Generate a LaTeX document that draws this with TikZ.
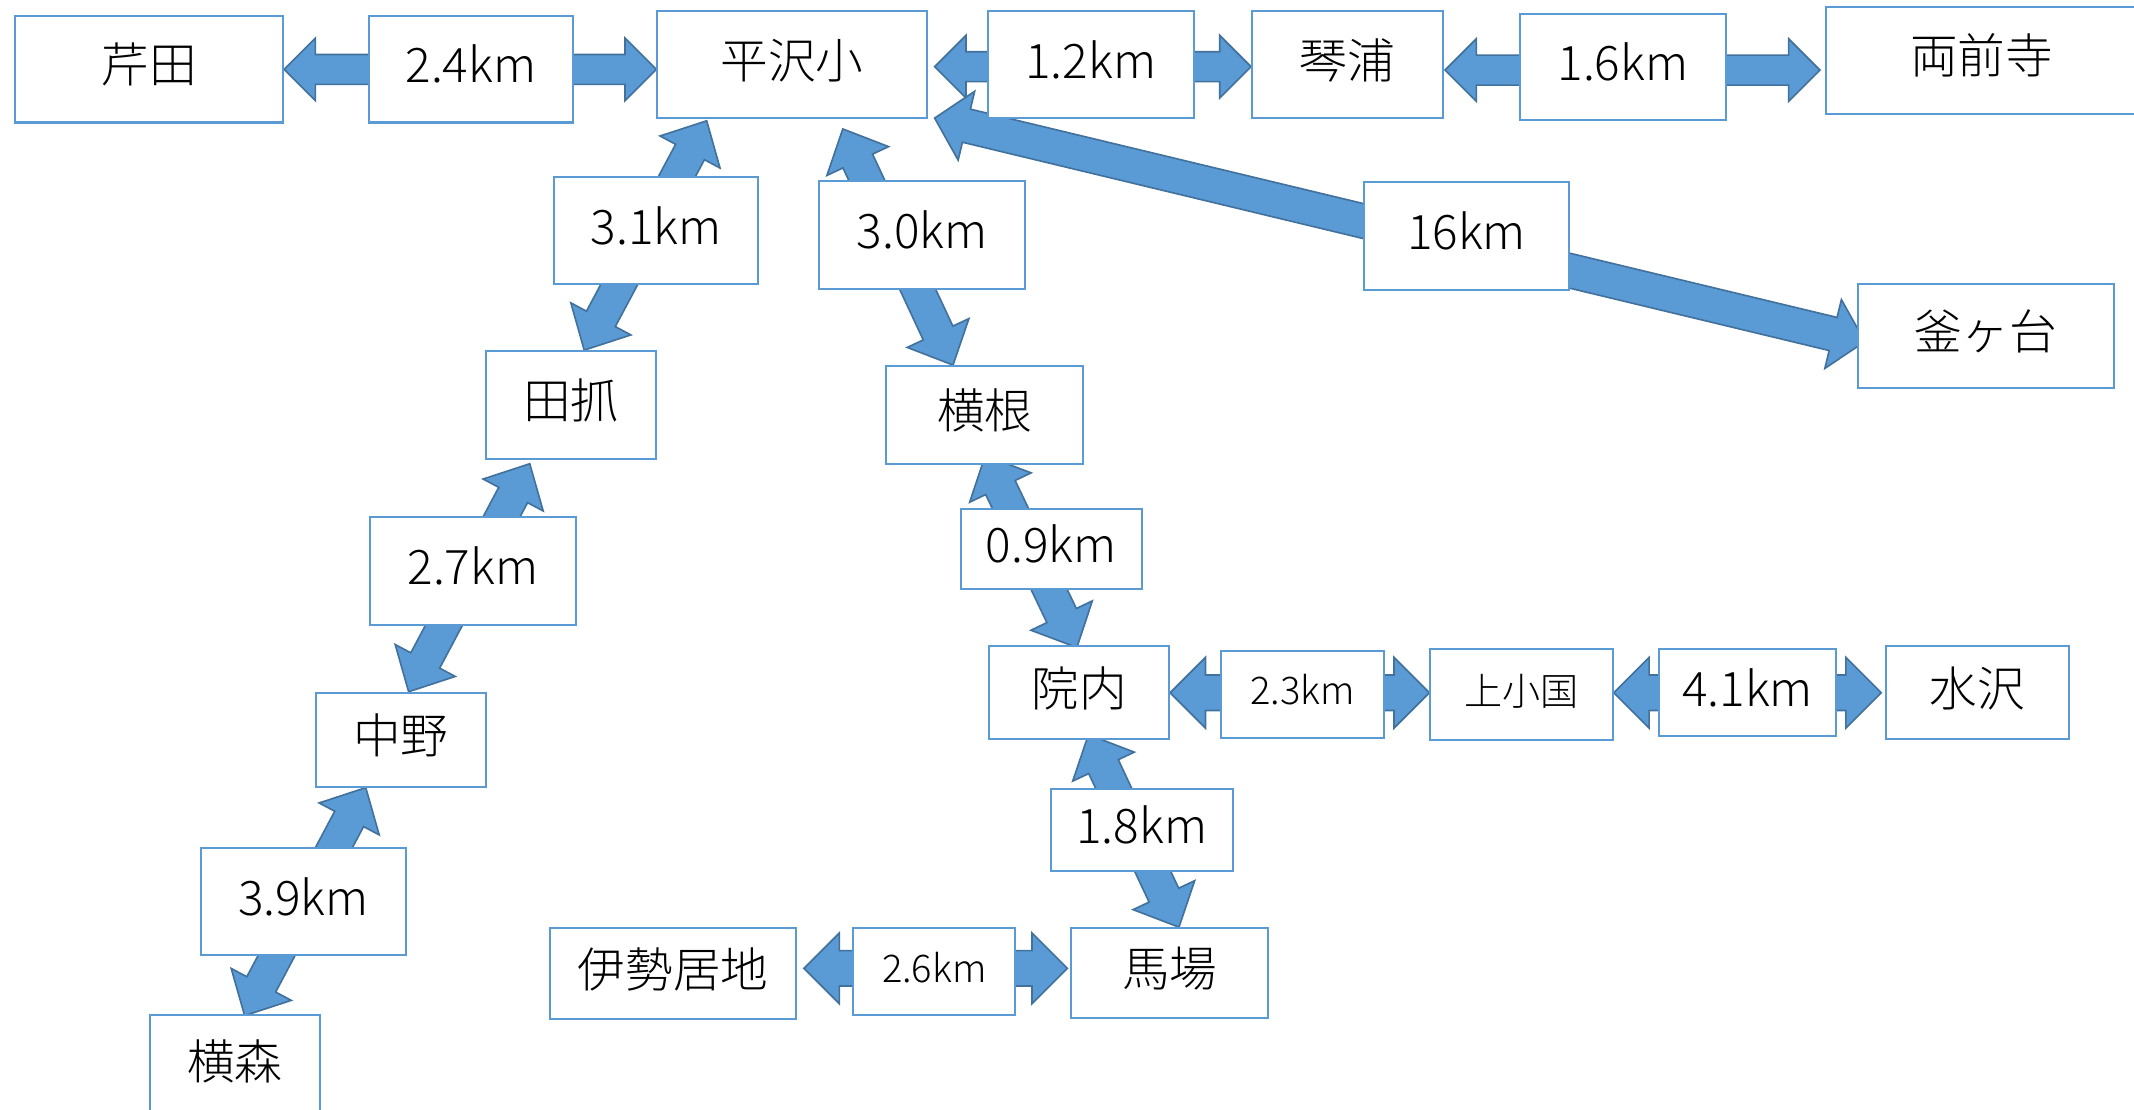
\documentclass[tikz,border=0pt]{standalone}
\usepackage{fontspec}
\setmainfont{Noto Sans CJK JP Light}
\usetikzlibrary{calc}
\definecolor{boxline}{HTML}{5B9BD5}
\definecolor{arrfill}{HTML}{5B9BD5}
\definecolor{arrline}{HTML}{41719C}
\pgfdeclarelayer{bg}
\pgfsetlayers{bg,main}
\tikzset{
  stbox/.style={draw=boxline, line width=1.5pt, fill=white, inner sep=0pt,
    font=\fontsize{35}{40}\selectfont, text height=24.5pt, text depth=4.8pt},
  smallbox/.style={stbox, font=\fontsize{28}{34}\selectfont, text height=20pt, text depth=4pt},
  blockarrow/.style={fill=arrfill, draw=arrline, line width=1.2pt, line join=miter},
}
% #1 head half width, #2 shaft half width, #3 head length, #4 tip A, #5 tip B
\newcommand\dblarr[5]{%
  \coordinate (ta) at (#4);
  \coordinate (tb) at (#5);
  \coordinate (ha) at ($(ta)!#3pt!(tb)$);
  \coordinate (hb) at ($(tb)!#3pt!(ta)$);
  \path[blockarrow] (ta) -- ($(ha)!#1pt!90:(tb)$) -- ($(ha)!#2pt!90:(tb)$)
    -- ($(hb)!#2pt!-90:(ta)$) -- ($(hb)!#1pt!-90:(ta)$) -- (tb)
    -- ($(hb)!#1pt!90:(ta)$) -- ($(hb)!#2pt!90:(ta)$)
    -- ($(ha)!#2pt!-90:(tb)$) -- ($(ha)!#1pt!-90:(tb)$) -- cycle;
}
\begin{document}
\begin{tikzpicture}[x=1pt,y=-1pt]
\useasboundingbox (0,0) rectangle (1568,815);
% stations
\node[stbox, minimum width=197pt, minimum height=78pt] (serita) at (109.5,51) {芹田};
\node[stbox, minimum width=198pt, minimum height=79pt] (hirasawa) at (582,47.5) {平沢小};
\node[stbox, minimum width=140pt, minimum height=79pt] (kotoura) at (990,47.5) {琴浦};
\node[stbox, minimum width=228pt, minimum height=79pt] (ryozenji) at (1456,44.5) {両前寺};
\node[stbox, minimum width=188pt, minimum height=76pt] (kamagadai) at (1459,247) {釜ヶ台};
\node[stbox, minimum width=125pt, minimum height=79pt] (tazume) at (419.5,297.5) {田抓};
\node[stbox, minimum width=145pt, minimum height=72pt] (yokone) at (723.5,305) {横根};
\node[stbox, minimum width=125pt, minimum height=69pt] (nakano) at (294.5,543.5) {中野};
\node[stbox, minimum width=132pt, minimum height=68pt] (innai) at (793,509) {院内};
\node[smallbox, minimum width=134pt, minimum height=67pt] (kamikokuni) at (1118,510.5) {上小国};
\node[stbox, minimum width=134pt, minimum height=68pt] (mizusawa) at (1453,509) {水沢};
\node[stbox, minimum width=181pt, minimum height=67pt] (iseiji) at (494.5,715.5) {伊勢居地};
\node[stbox, minimum width=145pt, minimum height=66pt] (baba) at (859.5,715) {馬場};
\node[stbox, minimum width=125pt, minimum height=74pt] (yokomori) at (172.5,783) {横森};
% arrow end points
\coordinate (h2a) at ($(hirasawa.east)+(5,1.5)$);
\coordinate (h3a) at ($(kotoura.east)+(1,4)$);
\coordinate (h6a) at ($(iseiji.east)+(5,-4)$);
\coordinate (a1a) at ($(hirasawa.south west)+(37,1)$);
\coordinate (a1b) at ($(tazume.north west)+(73,0)$);
\coordinate (a2a) at ($(hirasawa.south west)+(137,7)$);
\coordinate (a2b) at ($(yokone.north west)+(50,0)$);
\coordinate (a3a) at ($(hirasawa.south east)+(5,-1)$);
\coordinate (a3b) at ($(kamagadai.west)+(6,4)$);
\coordinate (a4a) at ($(tazume.south west)+(33,3)$);
\coordinate (a4b) at ($(nakano.north west)+(69,0)$);
\coordinate (a5a) at ($(nakano.south west)+(37.5,0)$);
\coordinate (a5b) at ($(yokomori.north west)+(70.5,1)$);
\coordinate (a6a) at ($(yokone.south west)+(73.6,-7)$);
\coordinate (a6b) at ($(innai.north west)+(65,1.5)$);
\coordinate (a7a) at ($(innai.south west)+(73.5,-4)$);
\coordinate (a7b) at ($(baba.north west)+(80,0)$);
\begin{pgfonlayer}{bg}
  \dblarr{23}{11}{23}{serita.east}{hirasawa.west |- serita.east}
  \dblarr{23}{11}{23}{h2a}{kotoura.west |- h2a}
  \dblarr{23}{11}{23}{h3a}{$(ryozenji.west |- h3a)+(-4,0)$}
  \dblarr{25}{12}{26}{a1a}{a1b}
  \dblarr{25}{12}{26}{a2a}{a2b}
  \dblarr{26}{12.5}{24}{a3a}{a3b}
  \dblarr{25}{12}{26}{a4a}{a4b}
  \dblarr{25}{12}{26}{a5a}{a5b}
  \dblarr{25}{12}{26}{a6a}{a6b}
  \dblarr{25}{12}{26}{a7a}{a7b}
  \dblarr{26}{13}{26}{innai.east}{kamikokuni.west |- innai.east}
  \dblarr{26}{13}{26}{kamikokuni.east |- innai.east}{$(mizusawa.west |- innai.east)+(-3,0)$}
  \dblarr{26}{13}{26}{h6a}{$(baba.west |- h6a)+(-2,0)$}
\end{pgfonlayer}
% distance labels
\node[stbox, minimum width=150pt, minimum height=78pt] (d24) at (346,51) {2.4km};
\node[stbox, minimum width=151pt, minimum height=79pt] (d12) at (801.5,47.5) {1.2km};
\node[stbox, minimum width=151pt, minimum height=78pt] (d16a) at (1192.5,49) {1.6km};
\node[stbox, minimum width=150pt, minimum height=79pt] (d31) at (482,169.5) {3.1km};
\node[stbox, minimum width=151pt, minimum height=79pt] (d30) at (677.5,172.5) {3.0km};
\node[stbox, minimum width=151pt, minimum height=79pt] (d160) at (1077.5,173.5) {16km};
\node[stbox, minimum width=151pt, minimum height=79pt] (d27) at (347.5,419.5) {2.7km};
\node[stbox, minimum width=133pt, minimum height=59pt] (d09) at (772.5,403.5) {0.9km};
\node[smallbox, minimum width=120pt, minimum height=64pt] (d23) at (957,510) {2.3km};
\node[stbox, minimum width=130pt, minimum height=64pt] (d41) at (1284,509) {4.1km};
\node[stbox, minimum width=134pt, minimum height=60pt] (d18) at (839,610) {1.8km};
\node[stbox, minimum width=150pt, minimum height=79pt] (d39) at (223,662.5) {3.9km};
\node[smallbox, minimum width=119pt, minimum height=64pt] (d26) at (686.5,714) {2.6km};
\end{tikzpicture}
\end{document}
